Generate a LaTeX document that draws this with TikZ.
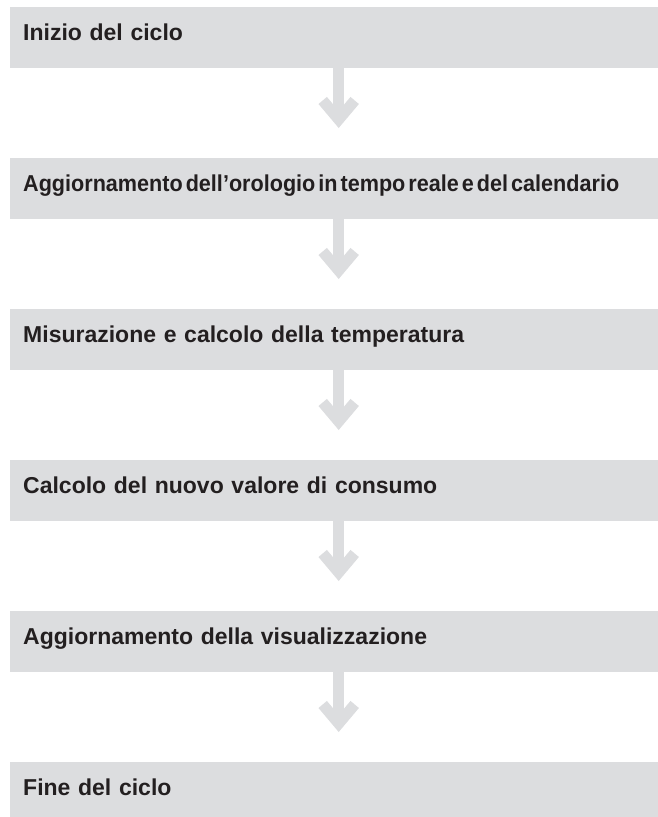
\documentclass[tikz,border=0pt]{standalone}
\usepackage{fontspec}
\usepackage{graphicx}
\setmainfont{Liberation Sans}
\usetikzlibrary{arrows.meta, positioning}
\definecolor{boxgray}{HTML}{DCDDDF}
\definecolor{textblack}{HTML}{231F20}
\newcommand{\tightline}[1]{\resizebox{596pt}{\height}{\spaceskip=0.14em\relax #1}}
\tikzset{
	stepbox/.style={fill=boxgray, inner xsep=13pt, inner ysep=0pt, text width=622pt, align=left,
		text height=33pt, text depth=28pt, font=\fontsize{23}{27}\selectfont\bfseries, text=textblack},
	flowline/.style={draw=boxgray, line width=11pt, shorten >=30pt,
		-{Straight Barb[sharp, length=19pt, width=32pt]}}
}
\begin{document}
\begin{tikzpicture}[x=1pt, y=-1pt]
		\useasboundingbox (0,0) rectangle (658,817);
		\node[stepbox, anchor=north west] (s1) at (10,7) {Inizio del ciclo};
		\node[stepbox, anchor=north west] (s2) at (10,158) {\tightline{Aggiornamento dell’orologio in tempo reale e del calendario}};
		\node[stepbox, anchor=north west] (s3) at (10,309) {Misurazione e calcolo della temperatura};
		\node[stepbox, anchor=north west] (s4) at (10,460) {Calcolo del nuovo valore di consumo};
		\node[stepbox, anchor=north west] (s5) at (10,611) {Aggiornamento della visualizzazione};
		\node[stepbox, anchor=north west] (s6) at (10,762) {Fine del ciclo};
		
		\draw[flowline] ([xshift=4.5pt]s1.south) -- ([xshift=4.5pt]s2.north);
		\draw[flowline] ([xshift=4.5pt]s2.south) -- ([xshift=4.5pt]s3.north);
		\draw[flowline] ([xshift=4.5pt]s3.south) -- ([xshift=4.5pt]s4.north);
		\draw[flowline] ([xshift=4.5pt]s4.south) -- ([xshift=4.5pt]s5.north);
		\draw[flowline] ([xshift=4.5pt]s5.south) -- ([xshift=4.5pt]s6.north);
	\end{tikzpicture}
\end{document}
